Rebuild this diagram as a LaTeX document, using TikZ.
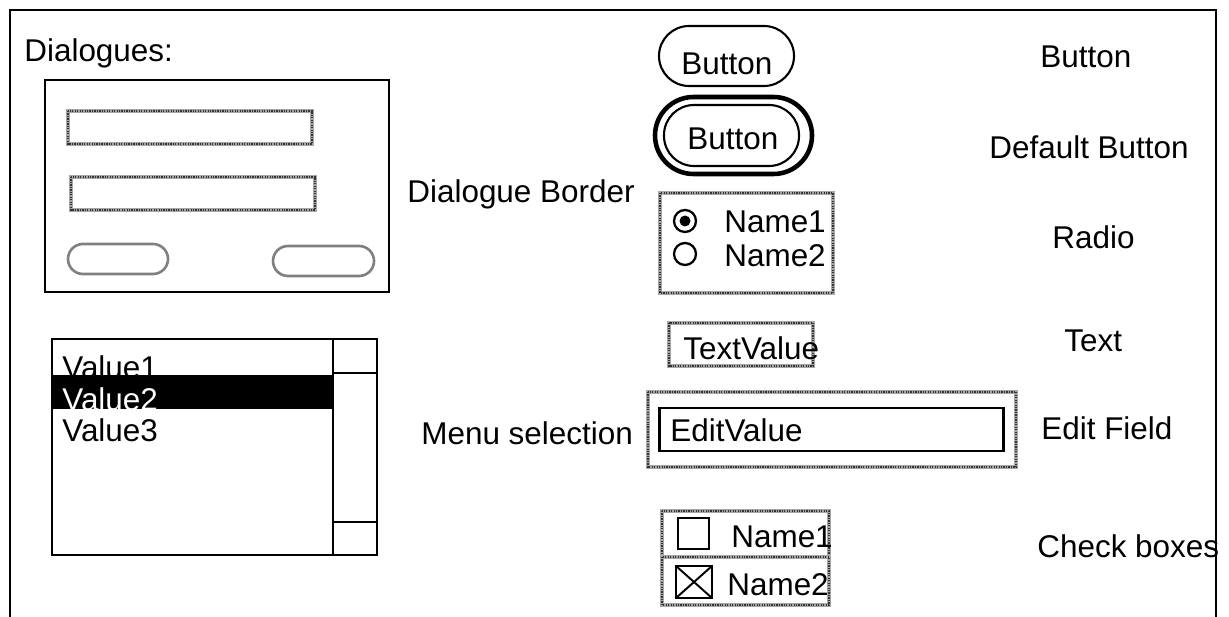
\documentclass[tikz,border=0pt]{standalone}
\usepackage{fontspec}
\setmainfont{Liberation Sans}
\begin{document}
\begin{tikzpicture}[x=0.02cm,y=-0.02cm,
  lbl/.style={anchor=base west, inner sep=0pt, font=\fontsize{17.9}{21}\selectfont},
  frm/.style={line width=1.5pt},
  thinb/.style={line width=1.2pt},
  grayb/.style={draw=black!35, line width=1.8pt, postaction={draw=black!80, line width=0.7pt, dash pattern=on 0.7pt off 0.7pt}},
  grayoval/.style={draw=black!50, line width=1.5pt}
]
\useasboundingbox (0,0) rectangle (1229,617);
% outer frame (open at bottom)
\draw[frm] (10,617) -- (10,10) -- (1216,10) -- (1216,617);

% Dialogues
\node[lbl] (dlg) at (24,62) {Dialogues:};
\draw[frm] (45,80) rectangle (389,292);
\draw[grayb] (68,111) rectangle (312,144);
\draw[grayb] (71,177) rectangle (315,210);
\draw[grayoval, rounded corners=0.3cm] (68,244) rectangle (168,274);
\draw[grayoval, rounded corners=0.3cm] (273,246) rectangle (374,276);
\node[lbl] (dborder) at (407,203) {Dialogue Border};

% Menu selection list
\draw[frm] (52,339) rectangle (377,555);
\draw[frm] (333,339) -- (333,555);
\draw[frm] (333,373) -- (377,373);
\draw[frm] (333,522) -- (377,522);
\node[lbl] (v1) at (62,379) {Value1};
\fill (52,375) rectangle (334,409);
\begin{scope}
  \clip (52,375) rectangle (334,409);
  \node[lbl, text=white] (v2) at (62,411) {Value2};
\end{scope}
\node[lbl] (v3) at (62,441) {Value3};
\node[lbl] (msel) at (421,445) {Menu selection};

% Button
\draw[thinb, rounded corners=0.6cm] (659,26) rectangle (794,86);
\node[lbl] (b1) at (681,75) {Button};
\node[lbl] (lb1) at (1040,68) {Button};

% Default button
\draw[line width=2.6pt, rounded corners=0.77cm] (655,97) rectangle (812,174);
\draw[thinb, rounded corners=0.6cm] (664,105) rectangle (799,166);
\node[lbl] (b2) at (687,150) {Button};
\node[lbl] (lb2) at (989,159) {Default Button};

% Radio
\draw[grayb] (660,193) rectangle (833,293);
\draw[line width=1.3pt] (685,221) circle[radius=0.22cm];
\fill (685,221) circle[radius=0.11cm];
\draw[line width=1.3pt] (685,254) circle[radius=0.22cm];
\node[lbl] (r1) at (724,233) {Name1};
\node[lbl] (r2) at (724,267) {Name2};
\node[lbl] (lr) at (1052,249) {Radio};

% Text
\draw[grayb] (669,323) rectangle (813,366);
\node[lbl] (tv) at (683,360) {TextValue};
\node[lbl] (lt) at (1064,352) {Text};

% Edit field
\draw[grayb] (648,392) rectangle (1016,467);
\draw[line width=1.7pt] (659,408) rectangle (1003,451);
\node[lbl] (ev) at (670,441) {EditValue};
\node[lbl] (le) at (1041,439) {Edit Field};

% Check boxes
\draw[grayb] (662,511) rectangle (829,557);
\draw[grayb] (662,557) rectangle (829,605);
\draw[line width=1.4pt] (678,518) rectangle (709,549);
\draw[line width=1.4pt] (676,566) rectangle (712,598);
\draw[line width=1.1pt] (676,566) -- (712,598) (712,566) -- (676,598);
\node[lbl] (c1) at (731,547) {Name1};
\node[lbl] (c2) at (727,595) {Name2};
\node[lbl] (lc) at (1037,557) {Check boxes};
\end{tikzpicture}
\end{document}
